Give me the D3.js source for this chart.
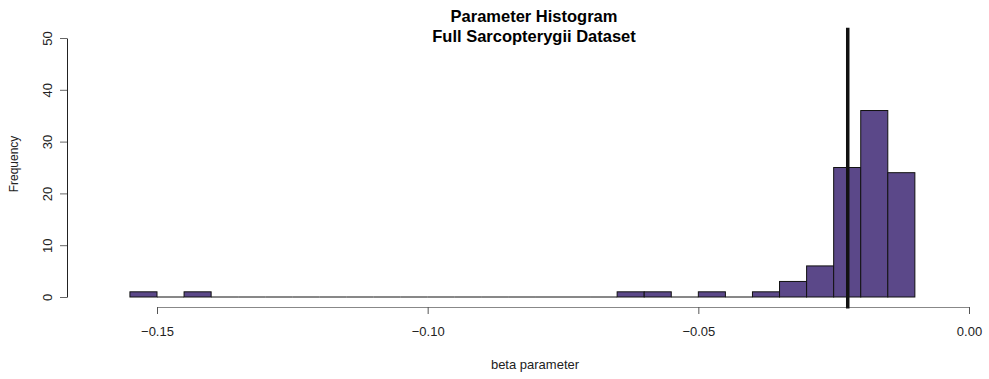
<!DOCTYPE html>
<html>
<head>
<meta charset="utf-8">
<script src="https://cdn.jsdelivr.net/npm/d3@7"></script>
<style>
  body { margin: 0; background: #fff; }
  svg text { font-family: "Liberation Sans", Arial, Helvetica, sans-serif; }
</style>
</head>
<body>
<svg id="chart" width="989" height="379"></svg>
<script>
// Histogram bins (left edge, width 0.005) and counts
const binStarts = [-0.155, -0.150, -0.145, -0.140, -0.135, -0.130, -0.125, -0.120, -0.115, -0.110,
                   -0.105, -0.100, -0.095, -0.090, -0.085, -0.080, -0.075, -0.070, -0.065, -0.060,
                   -0.055, -0.050, -0.045, -0.040, -0.035, -0.030, -0.025, -0.020, -0.015];
const counts    = [1, 0, 1, 0, 0, 0, 0, 0, 0, 0,
                   0, 0, 0, 0, 0, 0, 0, 0, 1, 1,
                   0, 1, 0, 1, 3, 6, 25, 36, 24];
const binWidth = 0.005;
const xTicks = [-0.15, -0.10, -0.05, 0.00];
const yTicks = [0, 10, 20, 30, 40, 50];
const markerValue = -0.0224;

const svg = d3.select("#chart");
const x = d3.scaleLinear().domain([-0.15, 0.0]).range([157, 969]);
const y = d3.scaleLinear().domain([0, 50]).range([297, 38]);

const bins = binStarts.map((s, i) => ({ s, c: counts[i] }));

// empty bins collapse to a flat line along the baseline
svg.append("g").selectAll("line")
  .data(bins.filter(d => d.c === 0))
  .join("line")
  .attr("x1", d => x(d.s)).attr("x2", d => x(d.s + binWidth))
  .attr("y1", y(0)).attr("y2", y(0))
  .attr("stroke", "#111").attr("stroke-width", 1);

// bars
svg.append("g").selectAll("rect")
  .data(bins.filter(d => d.c > 0))
  .join("rect")
  .attr("x", d => x(d.s))
  .attr("width", d => x(d.s + binWidth) - x(d.s))
  .attr("y", d => y(d.c))
  .attr("height", d => y(0) - y(d.c))
  .attr("fill", "#5b4889")
  .attr("stroke", "#111")
  .attr("stroke-width", 1);

// x axis
const fmt = v => (v < 0 ? "\u2212" : "") + Math.abs(v).toFixed(2);
const xAxis = svg.append("g").attr("transform", "translate(0,307)")
  .call(d3.axisBottom(x).tickValues(xTicks).tickSize(7).tickSizeOuter(0).tickFormat(fmt));
xAxis.select(".domain").attr("stroke", "#888").attr("stroke-width", 1.2);
xAxis.selectAll(".tick line").attr("stroke", "#555");
xAxis.selectAll(".tick text").attr("font-size", 13).attr("fill", "#222").attr("dy", "1.45em");

// y axis
const yAxis = svg.append("g").attr("transform", "translate(67,0)")
  .call(d3.axisLeft(y).tickValues(yTicks).tickSize(7).tickSizeOuter(0));
yAxis.select(".domain").attr("stroke", "#222");
yAxis.selectAll(".tick line").attr("stroke", "#666");
yAxis.selectAll(".tick text")
  .attr("font-size", 13).attr("fill", "#222")
  .attr("x", null)
  .attr("text-anchor", "middle")
  .attr("transform", "translate(-20,0) rotate(-90)")
  .attr("dy", "0.35em");

// reference line
svg.append("line")
  .attr("x1", x(markerValue)).attr("x2", x(markerValue))
  .attr("y1", y(52)).attr("y2", y(-2.2))
  .attr("stroke", "#111").attr("stroke-width", 3.5);

// titles and axis labels
svg.append("text").attr("x", 534).attr("y", 22).attr("text-anchor", "middle")
  .attr("font-size", 16.5).attr("font-weight", "bold").text("Parameter Histogram");
svg.append("text").attr("x", 534).attr("y", 42).attr("text-anchor", "middle")
  .attr("font-size", 16.5).attr("font-weight", "bold").text("Full Sarcopterygii Dataset");
svg.append("text").attr("x", 535).attr("y", 369).attr("text-anchor", "middle")
  .attr("font-size", 13).attr("fill", "#222").text("beta parameter");
svg.append("text").attr("transform", "translate(18,164) rotate(-90)").attr("text-anchor", "middle")
  .attr("font-size", 12).attr("fill", "#222").text("Frequency");
</script>
</body>
</html>
